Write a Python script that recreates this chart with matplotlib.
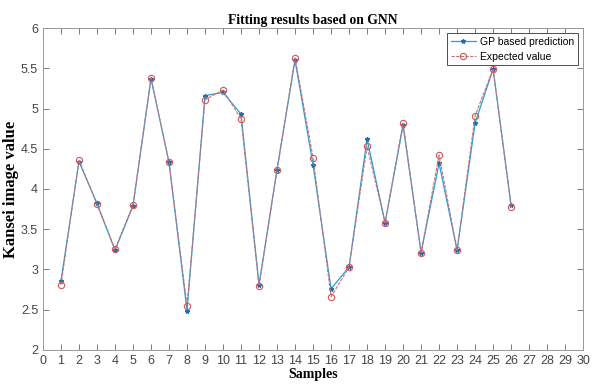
import matplotlib
matplotlib.use("Agg")
import matplotlib.pyplot as plt

samples = list(range(1, 27))
gp_pred = [2.86, 4.34, 3.82, 3.24, 3.79, 5.37, 4.33, 2.49, 5.16, 5.20,
           4.93, 2.81, 4.24, 5.60, 4.30, 2.76, 3.03, 4.62, 3.58, 4.79,
           3.21, 4.32, 3.24, 4.82, 5.49, 3.80]
expected = [2.81, 4.36, 3.81, 3.25, 3.80, 5.38, 4.33, 2.55, 5.11, 5.23,
            4.87, 2.80, 4.24, 5.63, 4.39, 2.66, 3.03, 4.53, 3.58, 4.82,
            3.21, 4.42, 3.24, 4.91, 5.49, 3.78]
xticks = list(range(0, 31))
yticks = [2, 2.5, 3, 3.5, 4, 4.5, 5, 5.5, 6]

fig = plt.figure(figsize=(5.92, 3.89), dpi=100)
ax = fig.add_axes([0.0726, 0.1003, 0.9124, 0.8277])

ax.plot(samples, gp_pred, color='#2a9fd0', lw=0.9, marker='*', ms=3.2,
        mec='#1f6fb0', mfc='#1f6fb0', label='GP based prediction')
ax.plot(samples, expected, color='#c8707a', lw=0.8, ls=(0, (3, 1.2)), marker='o', ms=4.5,
        mfc='none', mec='#d05858', mew=0.8, label='Expected value')

ax.set_xlim(0, 30)
ax.set_ylim(2, 6)
ax.set_xticks(xticks)
ax.set_yticks(yticks)
ax.set_yticklabels(['2', '2.5', '3', '3.5', '4', '4.5', '5', '5.5', '6'])
ax.tick_params(direction='in', top=True, right=True, length=4, width=0.6,
               colors='#666666', labelsize=9, labelcolor='#444444')
for lbl in ax.get_xticklabels() + ax.get_yticklabels():
    lbl.set_family('Liberation Sans')
for sp in ax.spines.values():
    sp.set_color('#999999')
    sp.set_linewidth(0.7)

ax.set_title('Fitting results based on GNN', family='Liberation Serif',
             fontweight='bold', fontsize=9.8, pad=3)
ax.set_xlabel('Samples', family='Liberation Serif', fontweight='bold', fontsize=10, labelpad=1)
ax.set_ylabel('Kansei image value', family='Liberation Serif', fontweight='bold', fontsize=12, labelpad=1)

leg = ax.legend(loc='upper right', prop={'family': 'Liberation Sans', 'size': 7.5},
                fancybox=False, framealpha=1, edgecolor='#333333',
                borderpad=0.35, handlelength=2.4, labelspacing=0.45, borderaxespad=0.5,
                handletextpad=0.4)
leg.get_frame().set_linewidth(0.6)

fig.savefig('out.png', dpi=100)
